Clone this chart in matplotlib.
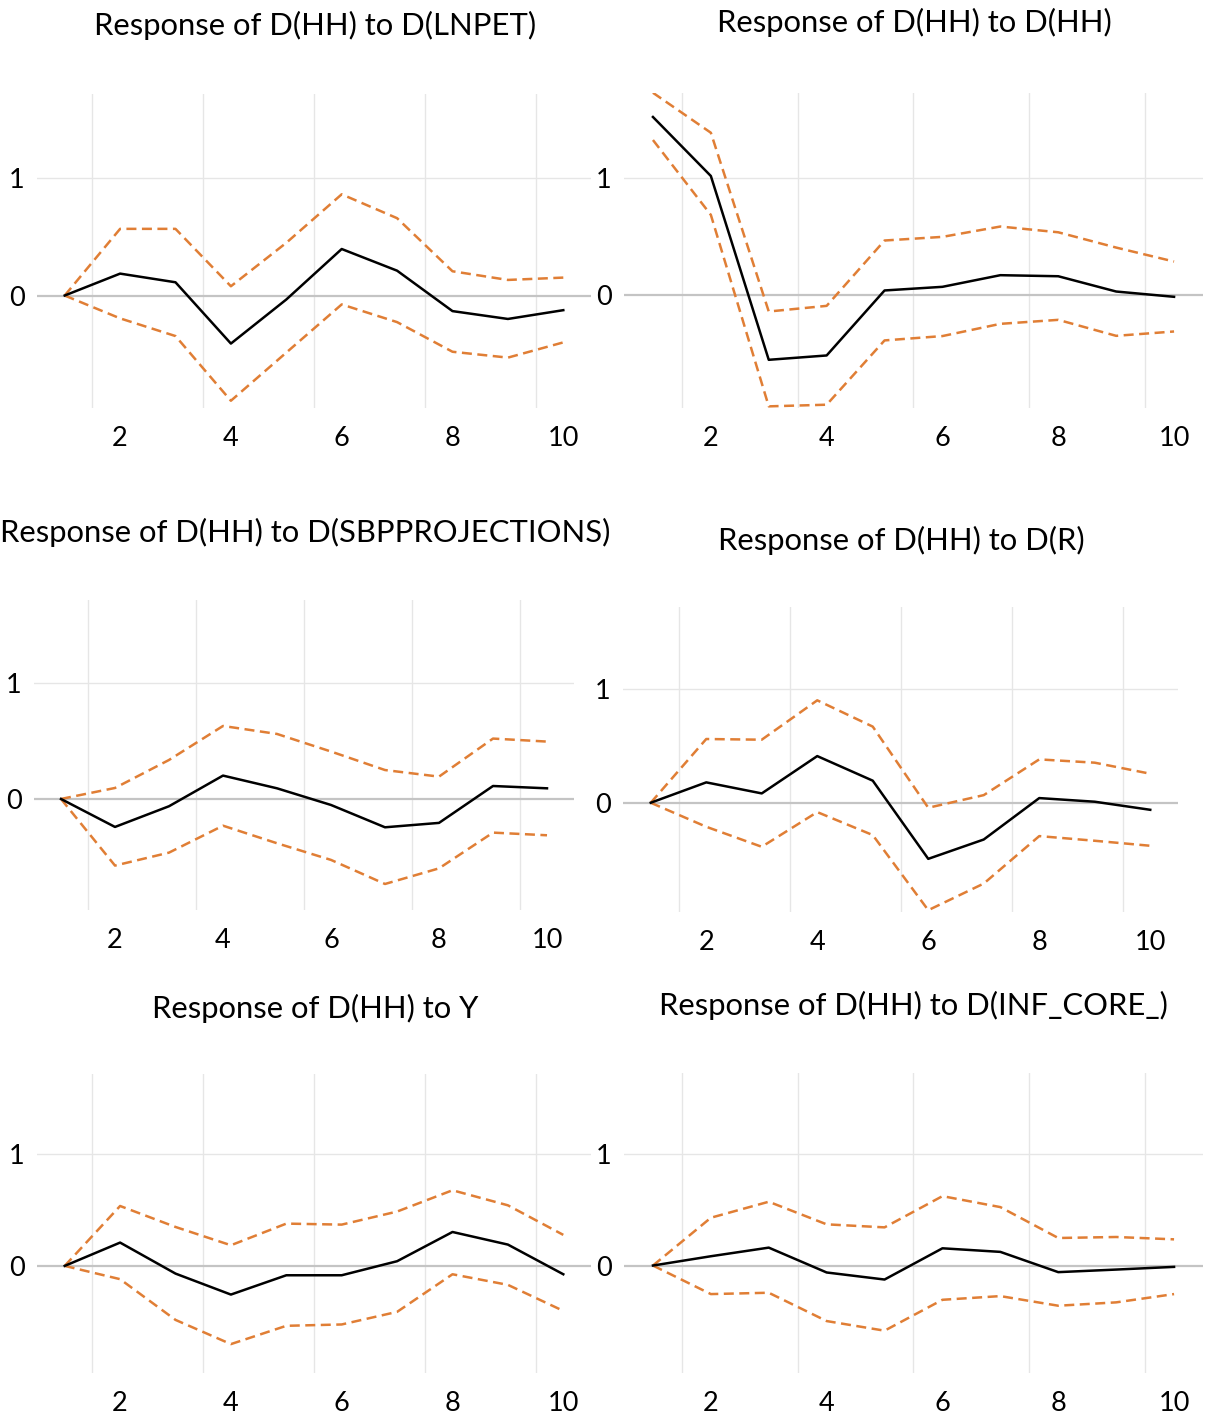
import matplotlib
matplotlib.use("Agg")
import matplotlib.pyplot as plt
import numpy as np

periods = [1, 2, 3, 4, 5, 6, 7, 8, 9, 10]

titles = [
    "Response of D(HH) to D(LNPET)",
    "Response of D(HH) to D(HH)",
    "Response of D(HH) to D(SBPPROJECTIONS)",
    "Response of D(HH) to D(R)",
    "Response of D(HH) to Y",
    "Response of D(HH) to D(INF_CORE_)",
]

lnpet_resp  = [0.00, 0.187, 0.113, -0.41, -0.034, 0.397, 0.212, -0.133, -0.20, -0.125]
lnpet_upper = [0.00, 0.569, 0.569, 0.079, 0.45, 0.864, 0.66, 0.207, 0.133, 0.153]
lnpet_lower = [0.00, -0.195, -0.346, -0.898, -0.487, -0.076, -0.227, -0.48, -0.53, -0.40]

hh_resp  = [1.516, 1.014, -0.55, -0.513, 0.04, 0.071, 0.17, 0.161, 0.031, -0.014]
hh_upper = [1.722, 1.382, -0.139, -0.091, 0.465, 0.496, 0.584, 0.535, 0.405, 0.286]
hh_lower = [1.32, 0.683, -0.946, -0.932, -0.385, -0.348, -0.244, -0.21, -0.346, -0.309]

sbp_resp  = [0.00, -0.242, -0.063, 0.202, 0.092, -0.052, -0.245, -0.207, 0.112, 0.092]
sbp_upper = [0.00, 0.095, 0.337, 0.631, 0.562, 0.41, 0.25, 0.193, 0.522, 0.496]
sbp_lower = [0.00, -0.576, -0.464, -0.231, -0.383, -0.527, -0.735, -0.60, -0.291, -0.314]

r_resp  = [0.00, 0.179, 0.082, 0.41, 0.194, -0.493, -0.323, 0.041, 0.009, -0.062]
r_upper = [0.00, 0.56, 0.554, 0.90, 0.669, -0.044, 0.067, 0.381, 0.352, 0.255]
r_lower = [0.00, -0.211, -0.387, -0.082, -0.284, -0.944, -0.71, -0.293, -0.334, -0.378]

y_resp  = [0.00, 0.209, -0.069, -0.257, -0.084, -0.084, 0.042, 0.304, 0.191, -0.075]
y_upper = [0.00, 0.537, 0.349, 0.185, 0.379, 0.37, 0.487, 0.678, 0.543, 0.278]
y_lower = [0.00, -0.119, -0.484, -0.701, -0.537, -0.525, -0.412, -0.075, -0.17, -0.403]

inf_resp  = [0.00, 0.083, 0.16, -0.062, -0.125, 0.154, 0.122, -0.059, -0.036, -0.012]
inf_upper = [0.00, 0.427, 0.57, 0.368, 0.341, 0.62, 0.522, 0.246, 0.255, 0.234]
inf_lower = [0.00, -0.255, -0.243, -0.496, -0.582, -0.306, -0.273, -0.359, -0.329, -0.255]

responses = [lnpet_resp, hh_resp, sbp_resp, r_resp, y_resp, inf_resp]
uppers = [lnpet_upper, hh_upper, sbp_upper, r_upper, y_upper, inf_upper]
lowers = [lnpet_lower, hh_lower, sbp_lower, r_lower, y_lower, inf_lower]

xtick_vals = [2, 4, 6, 8, 10]
ytick_vals = [0, 1]

W, H = 1208, 1415
fig = plt.figure(figsize=(W / 100, H / 100), dpi=100)
plt.rcParams['font.family'] = ['Lato', 'DejaVu Sans']

# axes boxes in pixels: left, right, top, bottom
boxes = [
    (37, 591, 94, 408),
    (624, 1203, 93, 408),
    (34, 574, 600, 910),
    (623, 1178, 607, 912),
    (37, 591, 1074, 1373),
    (624, 1203, 1073, 1373),
]
# title centers in pixels
title_pos = [(315, 25), (914, 22), (305, 532), (901, 540), (315, 1008), (913, 1005)]

orange = '#E07E35'
for i in range(6):
    l, r, t, b = boxes[i]
    ax = fig.add_axes([l / W, 1 - b / H, (r - l) / W, (b - t) / H])
    ax.set_xlim(0.5, 10.5)
    ax.set_ylim(-0.96, 1.72)
    for s in ax.spines.values():
        s.set_visible(False)
    for gx in [1.5, 3.5, 5.5, 7.5, 9.5]:
        ax.axvline(gx, color='#E6E6E6', lw=1.0, zorder=0)
    ax.axhline(1, color='#E6E6E6', lw=1.0, zorder=0)
    ax.axhline(0, color='#C4C4C4', lw=1.6, zorder=1)
    ax.plot(periods, uppers[i], color=orange, lw=1.8, dashes=(4.0, 2.2), zorder=2)
    ax.plot(periods, lowers[i], color=orange, lw=1.8, dashes=(4.0, 2.2), zorder=2)
    ax.plot(periods, responses[i], color='black', lw=1.8, zorder=3)
    ax.set_xticks(xtick_vals)
    ax.set_xticklabels([str(v) for v in xtick_vals])
    ax.set_yticks(ytick_vals)
    ax.set_yticklabels([str(v) for v in ytick_vals])
    ax.tick_params(axis='both', length=0, labelsize=19.5, colors='black')
    ax.tick_params(axis='x', pad=13)
    ax.tick_params(axis='y', pad=9)
    tx, ty = title_pos[i]
    fig.text(tx / W, 1 - ty / H, titles[i], ha='center', va='center', fontsize=22.3, color='black')

fig.savefig('out.png', dpi=100)
